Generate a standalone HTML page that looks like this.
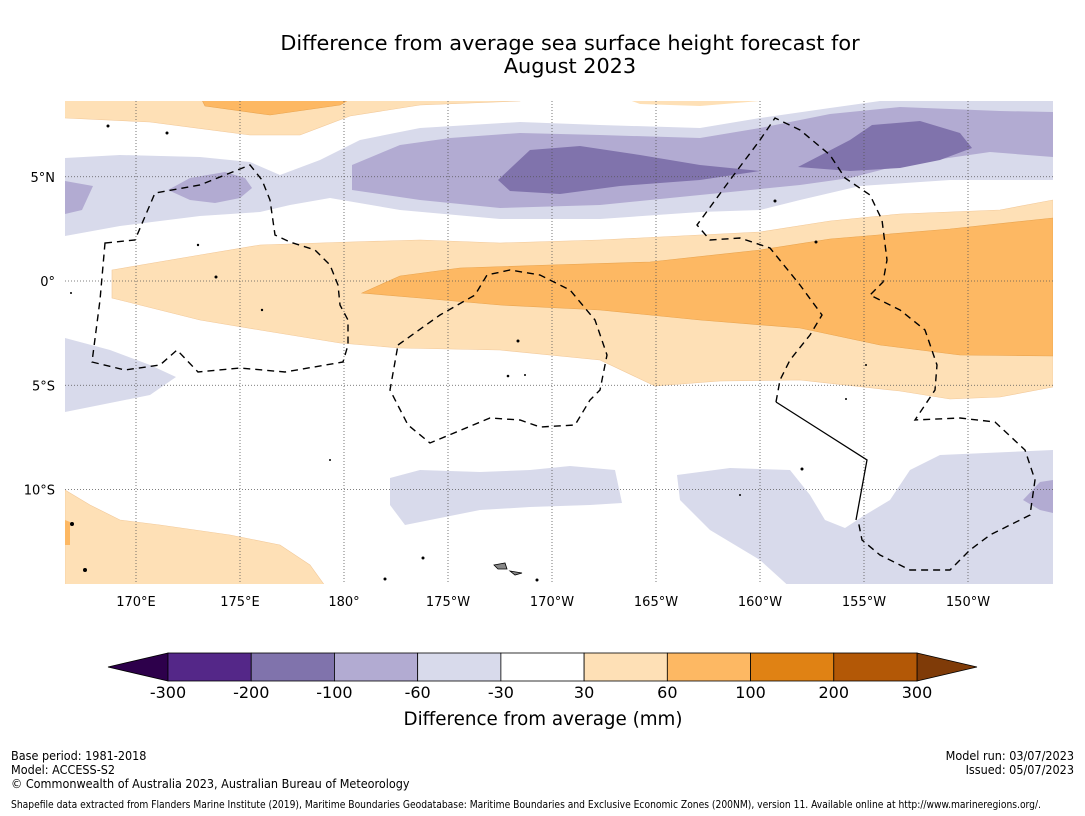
<!DOCTYPE html>
<html><head><meta charset="utf-8"><style>
body{margin:0;background:#fff;width:1085px;height:816px;overflow:hidden;font-family:"DejaVu Sans","Liberation Sans",sans-serif;}
.ft{position:absolute;font-family:"DejaVu Sans Condensed","DejaVu Sans","Liberation Sans Narrow",sans-serif;font-stretch:condensed;font-size:12.5px;line-height:14px;color:#000;white-space:nowrap}
</style></head><body>
<svg id="svg" width="1085" height="816" style="position:absolute;left:0;top:0">
<text x="570" y="50" text-anchor="middle" font-size="20.8">Difference from average sea surface height forecast for</text>
<text x="570" y="73" text-anchor="middle" font-size="20.8">August 2023</text>
<defs><clipPath id="mc"><rect x="65" y="101" width="988" height="483"/></clipPath></defs>
<g clip-path="url(#mc)">
<rect x="65" y="101" width="988" height="483" fill="#fff"/>
<path fill="#fee0b6" stroke="#f2c99a" stroke-width="0.6" d="M60 96 L520 96 L520 101 L420 105 L350 116 L300 135 L250 135 L150 122 L65 118 Z"/>
<path fill="#fdb863" stroke="#e9a44f" stroke-width="0.6" d="M200 96 L355 96 L340 105 L270 115 L205 106 Z"/>
<path fill="#fee0b6" d="M618 96 L762 96 L760 101 L700 106 L640 104 Z"/>
<path fill="#d8daeb" d="M65 158 L120 155 L200 157 L250 162 L280 175 L320 160 L360 140 L420 128 L520 122 L600 125 L700 128 L760 118 L830 108 L880 101 L1053 101 L1053 180 L950 180 L860 186 L800 200 L760 210 L700 212 L600 219 L500 219 L400 210 L330 198 L290 205 L260 212 L200 216 L120 226 L65 236 Z"/>
<path fill="#b2abd2" d="M352 165 L400 145 L450 138 L520 133 L600 135 L700 138 L760 128 L830 114 L900 107 L1000 111 L1053 112 L1053 157 L990 152 L900 165 L850 178 L800 185 L700 195 L600 205 L500 208 L420 200 L352 190 Z"/>
<path fill="#b2abd2" d="M65 181 L93 186 L82 210 L65 214 Z"/>
<path fill="#b2abd2" d="M168 190 L190 178 L225 172 L245 178 L252 188 L240 198 L215 203 L190 200 Z"/>
<path fill="#8073ac" d="M498 180 L530 150 L580 146 L640 155 L700 165 L760 171 L700 180 L620 186 L560 194 L510 191 Z"/>
<path fill="#8073ac" d="M798 167 L850 140 L872 125 L920 121 L960 133 L972 148 L940 160 L900 168 L850 171 Z"/>
<path fill="#fee0b6" stroke="#f2c99a" stroke-width="0.6" d="M112 270 L200 255 L260 245 L350 242 L420 240 L500 243 L600 240 L700 235 L760 232 L830 221 L900 214 L1000 210 L1053 200 L1053 387 L1000 397 L950 399 L900 391 L800 380 L720 381 L655 386 L600 360 L500 350 L400 348 L340 343 L260 330 L200 320 L140 305 L112 298 Z"/>
<path fill="#fdb863" stroke="#e9a44f" stroke-width="0.6" d="M362 293 L400 276 L460 268 L550 265 L650 262 L760 250 L830 239 L950 229 L1053 218 L1053 356 L960 355 L880 345 L800 328 L700 320 L600 310 L500 305 L420 298 Z"/>
<path fill="#d8daeb" d="M65 338 L110 350 L150 365 L176 377 L150 395 L100 405 L65 412 Z"/>
<path fill="#d8daeb" d="M390 478 L420 470 L480 472 L530 470 L570 466 L615 470 L622 503 L590 505 L530 507 L480 510 L440 518 L405 525 L390 505 Z"/>
<path fill="#d8daeb" d="M677 475 L730 468 L790 470 L810 495 L825 520 L845 528 L865 515 L890 500 L910 470 L940 455 L1053 450 L1053 590 L793 590 L760 560 L710 530 L680 500 Z"/>
<path fill="#b2abd2" d="M1023 500 L1040 482 L1053 480 L1053 513 L1040 510 Z"/>
<path fill="#fee0b6" stroke="#f2c99a" stroke-width="0.6" d="M65 490 L90 505 L120 520 L160 525 L230 535 L280 545 L310 565 L328 590 L65 590 Z"/>
<path fill="#fdb863" d="M65 520 L70 522 L70 545 L65 545 Z"/>
<g id="grid" stroke="#555" stroke-width="0.8" stroke-dasharray="1,2"></g>
<g fill="none" stroke="#000" stroke-width="1.4" stroke-dasharray="7,5">
<path d="M105 243 L135 240 L155 193 L200 185 L250 165 L262 180 L270 200 L275 235 L290 242 L315 250 L330 265 L338 285 L340 305 L348 320 L348 345 L343 362 L285 372 L240 368 L198 372 L177 350 L160 365 L125 370 L92 362 L100 300 Z"/>
<path d="M398 345 L440 315 L475 295 L487 275 L510 270 L540 275 L570 290 L595 320 L607 355 L600 390 L590 400 L575 425 L540 427 L520 420 L490 418 L430 443 L408 425 L390 390 Z"/>
<path d="M776 402 L780 380 L790 360 L810 335 L822 315 L800 285 L770 248 L740 238 L710 240 L697 225 L730 180 L760 140 L775 118 L800 130 L830 155 L845 178 L870 195 L882 220 L887 260 L883 282 L870 295 L900 310 L925 330 L937 365 L935 390 L915 420 L960 418 L995 422 L1025 450 L1035 480 L1030 515 L990 535 L970 550 L950 570 L910 570 L880 555 L862 540 L858 520"/>
</g>
<path d="M776 402 L820 430 L867 460 L856 520" fill="none" stroke="#000" stroke-width="1.3"/>
<g fill="#000">
<circle cx="216" cy="277" r="1.5"/><circle cx="198" cy="245" r="1.2"/><circle cx="262" cy="310" r="1.2"/><circle cx="330" cy="460" r="1"/><circle cx="508" cy="376" r="1.3"/><circle cx="525" cy="375" r="1"/><circle cx="518" cy="341" r="1.5"/><circle cx="775" cy="201" r="1.5"/><circle cx="816" cy="242" r="1.5"/><circle cx="802" cy="469" r="1.5"/><circle cx="740" cy="495" r="1"/><circle cx="72" cy="524" r="2"/><circle cx="85" cy="570" r="2"/><circle cx="423" cy="558" r="1.5"/><circle cx="385" cy="579" r="1.5"/><circle cx="537" cy="580" r="1.5"/><circle cx="866" cy="365" r="1"/><circle cx="846" cy="399" r="1"/><circle cx="167" cy="133" r="1.5"/><circle cx="108" cy="126" r="1.5"/><circle cx="71" cy="293" r="1"/>
<path d="M494 565 L505 563 L507 569 L498 569 Z M510 571 L522 573 L515 575 Z" fill="#888" stroke="#000" stroke-width="0.8"/>
</g>
</g>
<g id="axes" font-size="13"></g>
<g id="cbar"></g>
<text x="543" y="725" text-anchor="middle" font-size="18.3">Difference from average (mm)</text>
</svg>
<div class="ft" style="left:11px;top:749px">Base period: 1981-2018<br>Model: ACCESS-S2</div>
<div class="ft" style="left:11px;top:777px">© Commonwealth of Australia 2023, Australian Bureau of Meteorology</div>
<div class="ft" style="right:11px;top:749px;text-align:right">Model run: 03/07/2023<br>Issued: 05/07/2023</div>
<div class="ft" style="left:11px;top:799px;font-size:10.2px">Shapefile data extracted from Flanders Marine Institute (2019), Maritime Boundaries Geodatabase: Maritime Boundaries and Exclusive Economic Zones (200NM), version 11. Available online at http://www.marineregions.org/.</div>
<script>
const lonTicks=[170,175,180,185,190,195,200,205,210];
const lonLabels=["170°E","175°E","180°","175°W","170°W","165°W","160°W","155°W","150°W"];
const latTicks=[5,0,-5,-10];
const latLabels=["5°N","0°","5°S","10°S"];
const levels=[-300,-200,-100,-60,-30,30,60,100,200,300];
const colors=["#542788","#8073ac","#b2abd2","#d8daeb","#ffffff","#fee0b6","#fdb863","#e08214","#b35806"];
const extColors=["#2d004b","#7f3b08"];
const NS="http://www.w3.org/2000/svg";
const X=lon=>136+(lon-170)*20.8;
const Y=lat=>281-lat*20.85;
function mk(t,a,p){const e=document.createElementNS(NS,t);for(const k in a)e.setAttribute(k,a[k]);p.appendChild(e);return e;}
const grid=document.getElementById('grid'),axes=document.getElementById('axes');
lonTicks.forEach((l,i)=>{
 const g=mk('line',{x1:X(l),x2:X(l),y1:101,y2:584},grid);
 
 
 const t=mk('text',{x:X(l),y:606,'text-anchor':'middle'},axes);t.textContent=lonLabels[i];
 
 
});
latTicks.forEach((l,i)=>{
 const g=mk('line',{x1:65,x2:1053,y1:Y(l),y2:Y(l)},grid);
 
 
 const t=mk('text',{x:55,y:Y(l)+5,'text-anchor':'end'},axes);t.textContent=latLabels[i];
 
 
});
const cb=document.getElementById('cbar');
const x0=168,x1=917,w=(x1-x0)/colors.length,cy0=653,cy1=681;
let p=mk('polygon',{points:`108,667 ${x0},${cy0} ${x0},${cy1}`,fill:extColors[0],stroke:'#000','stroke-width':0.8},cb);


p=mk('polygon',{points:`977,667 ${x1},${cy0} ${x1},${cy1}`,fill:extColors[1],stroke:'#000','stroke-width':0.8},cb);


colors.forEach((c,i)=>{
 const r=mk('rect',{x:x0+i*w,y:cy0,width:w,height:cy1-cy0,fill:c,stroke:'#000','stroke-width':0.8},cb);
 
 
});
levels.forEach((v,i)=>{
 const t=mk('text',{x:x0+i*w,y:698,'text-anchor':'middle','font-size':16},cb);t.textContent=v;
 
 
});
</script>
</body></html>
